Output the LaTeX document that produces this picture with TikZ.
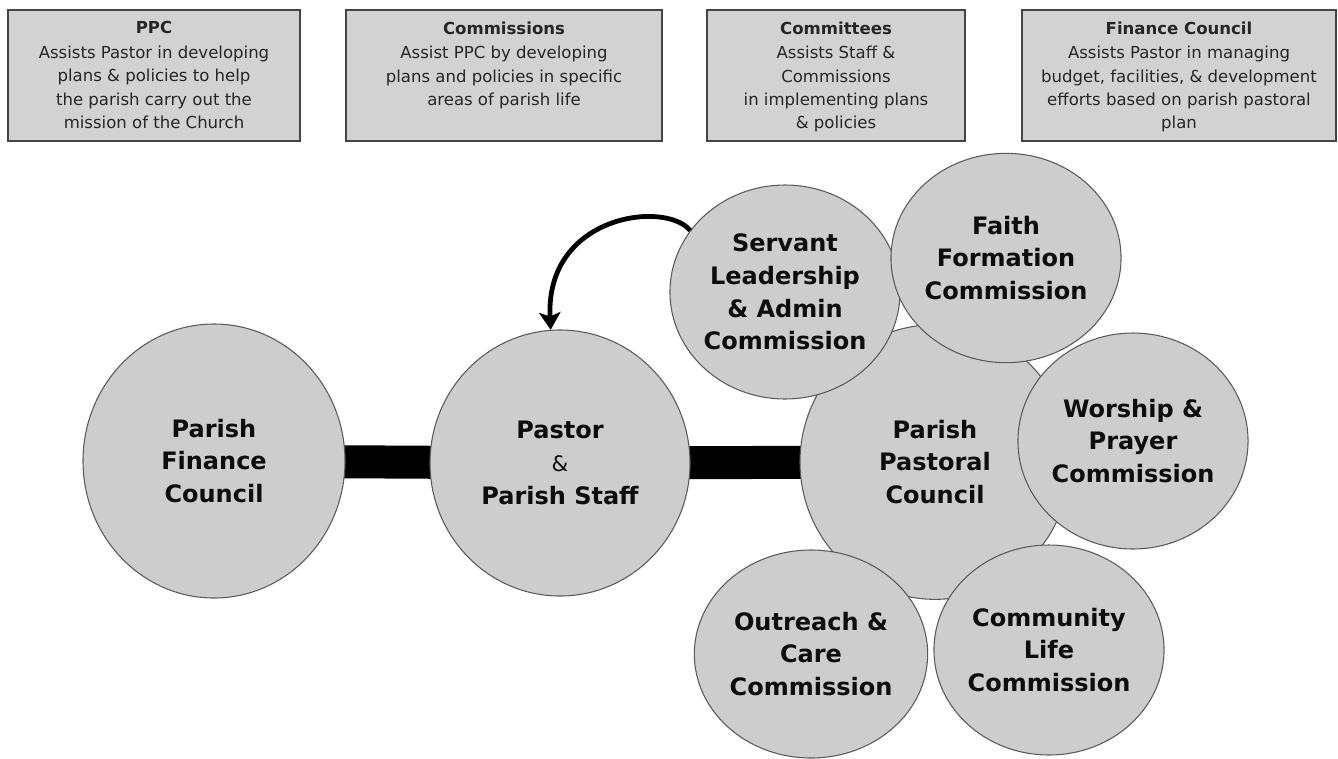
\documentclass[tikz,border=0pt]{standalone}
\usepackage{fontspec}
\setmainfont{DejaVu Sans}
\usepackage{xcolor}
\usetikzlibrary{positioning, shapes.geometric, arrows.meta, backgrounds}

\definecolor{boxgray}{HTML}{D2D2D2}
\definecolor{discgray}{HTML}{CDCDCD}
\definecolor{rimdark}{HTML}{454545}
\definecolor{rimgray}{HTML}{5A5A5A}
\definecolor{textgray}{HTML}{262626}

\begin{document}
\begin{tikzpicture}[x=0.75pt, y=-0.75pt,
    infobox/.style={draw=rimdark, line width=1.1pt, fill=boxgray,
                    minimum height=98.25pt, inner sep=0pt},
    infotxt/.style={align=center, inner sep=0pt, text=textgray,
                    font=\fontsize{12.4}{17.5}\selectfont},
    disc/.style={ellipse, draw=rimgray, line width=0.8pt, fill=discgray,
                 inner sep=0pt, align=center, text=black!95,
                 font=\fontsize{18}{24.5}\selectfont\bfseries},
    bar/.style={line width=24.75pt, black},
    backarw/.style={line width=3.6pt, black,
                    -{Stealth[length=13pt, width=16pt, inset=3pt]}},
]
\useasboundingbox (0,0) rectangle (1338,758);

% top row: what each body does
\node[infobox, minimum width=219pt] (ppcbox) at (154,75.5) {};
\node[infobox, minimum width=237pt] (combox) at (504,75.5) {};
\node[infobox, minimum width=193.5pt] (cttbox) at (836,75.5) {};
\node[infobox, minimum width=235.5pt] (fcbox) at (1179,75.5) {};

\node[infotxt, below=9pt of ppcbox.north] (ppctxt)
    {\textbf{PPC}\\[1pt]Assists Pastor in developing\\plans \& policies to help\\
     the parish carry out the\\mission of the Church};
\node[infotxt, below=9pt of combox.north] (comtxt)
    {\textbf{Commissions}\\[1pt]Assist PPC by developing\\plans and policies in specific\\
     areas of parish life};
\node[infotxt, below=9pt of cttbox.north] (ctttxt)
    {\textbf{Committees}\\[1pt]Assists Staff \&\\Commissions\\
     in implementing plans\\\& policies};
\node[infotxt, below=9pt of fcbox.north] (fctxt)
    {\textbf{Finance Council}\\[1pt]Assists Pastor in managing\\budget, facilities, \& development\\
     efforts based on parish pastoral\\plan};

% main line
\node[disc, minimum width=196.5pt, minimum height=205.5pt] (fin) at (214,461)
    {Parish\\Finance\\Council};
\node[disc, minimum width=195pt, minimum height=199.5pt] (pastor) at (560,463)
    {Pastor\\{\mdseries\fontsize{16}{24.5}\selectfont\&}\\Parish Staff};
\node[disc, minimum width=202.5pt, minimum height=206pt] (ppc) at (935,462)
    {Parish\\Pastoral\\Council};

% commissions round the council
\node[disc, minimum width=169.5pt, minimum height=160.5pt] (servant) at (785,292)
    {Servant\\Leadership\\\& Admin\\Commission};
\node[disc, minimum width=166.5pt, minimum height=157pt] (faith) at (1006,258)
    {Faith\\Formation\\Commission};
\node[disc, minimum width=166.5pt, minimum height=162pt] (worship) at (1133,441)
    {Worship \&\\Prayer\\Commission};
\node[disc, minimum width=175pt, minimum height=156pt] (outreach) at (811,654)
    {Outreach \&\\Care\\Commission};
\node[disc, minimum width=163.5pt, minimum height=157.5pt] (community) at (1049,650)
    {Community\\Life\\Commission};

\begin{scope}[on background layer]
\foreach \a/\b in {fin/pastor, pastor/ppc}
    \draw[bar] (\a.center) -- (\b.center);
\end{scope}

\draw[backarw] (servant.147) .. controls (665,200) and (545,215) .. (pastor.94);
\end{tikzpicture}
\end{document}
